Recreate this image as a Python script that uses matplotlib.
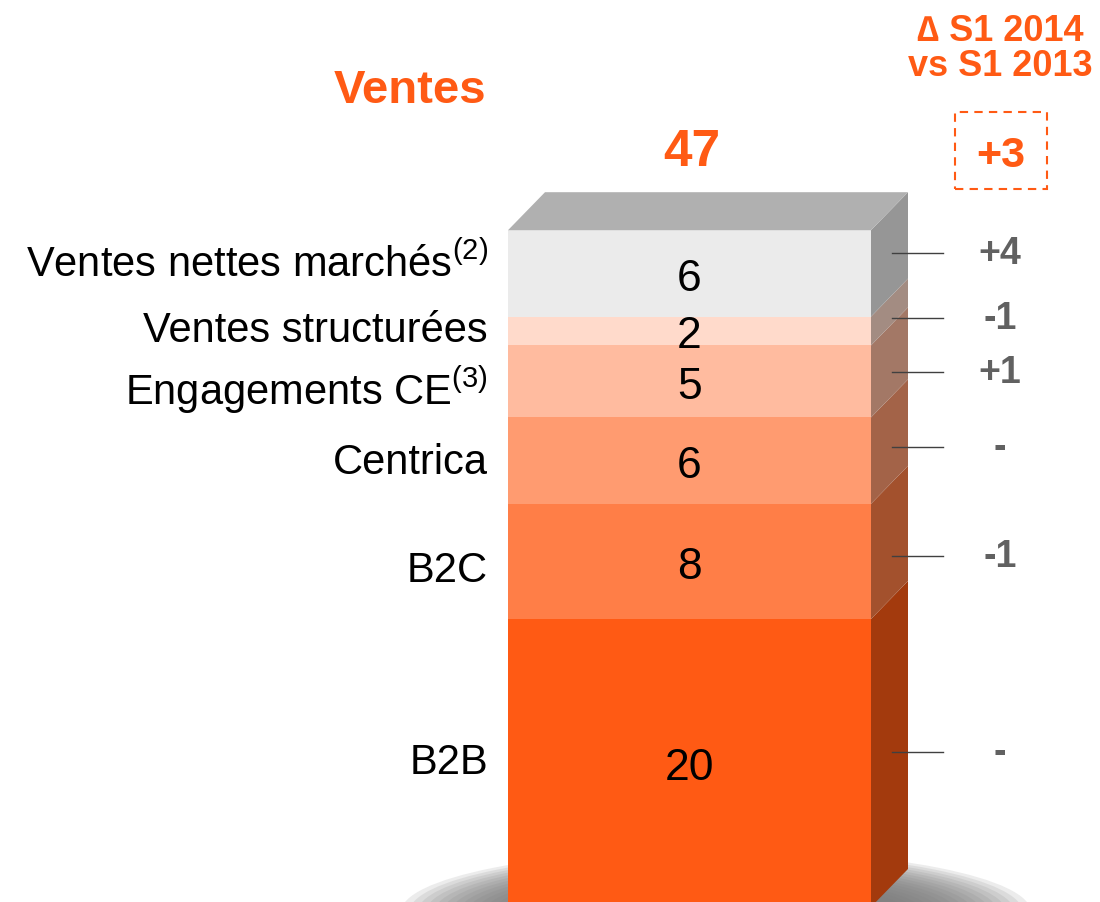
import numpy as np
import matplotlib
matplotlib.use("Agg")
from matplotlib import pyplot as plt
from matplotlib.patches import Polygon, Ellipse, Rectangle

plt.rcParams['font.family'] = ['Liberation Sans', 'DejaVu Sans']
plt.rcParams['mathtext.fontset'] = 'custom'
plt.rcParams['mathtext.rm'] = 'Liberation Sans'
plt.rcParams['mathtext.it'] = 'Liberation Sans:italic'

# data, bottom to top
categories = ["B2B", "B2C", "Centrica", "Engagements CE$^{(3)}$",
              "Ventes structurées", "Ventes nettes marchés$^{(2)}$"]
values = [20, 8, 6, 5, 2, 6]
deltas = ["-", "-1", "-", "+1", "-1", "+4"]
total = 47
total_delta = "+3"
colors = ["#FF5A14", "#FF7E47", "#FF9B70", "#FFBB9F", "#FFDACB", "#EBEBEB"]

ORANGE = "#FF5A14"
PX = 14.4                     # pixels per unit
Y0 = 907                      # pixel row of value 0
depth_x, depth_y = 37, 38 / PX
bar_x, bar_w = 508, 363

fig = plt.figure(figsize=(11, 9.02), dpi=100)
ax = fig.add_axes([0, 0, 1, 1])
ax.set_xlim(0, 1100)
ax.set_ylim((Y0 - 902) / PX, Y0 / PX)
ax.axis('off')

def v(py):
    return (Y0 - py) / PX

# floor shadow
n = 16
for i in range(n):
    f = i / (n - 1)
    ax.add_patch(Ellipse((716, v(912)), 630 - 250 * f, (125 - 60 * f) / PX,
                         color="#7A7A7A", alpha=0.14, lw=0, zorder=0))

bottoms = np.concatenate([[0], np.cumsum(values)[:-1]])
ax.bar(bar_x, values, bottom=bottoms, width=bar_w, align='edge',
       color=colors, edgecolor='none', zorder=2)

for b, h, c in zip(bottoms, values, colors):
    rgb = np.array(matplotlib.colors.to_rgb(c)) * 0.64
    x1 = bar_x + bar_w
    ax.add_patch(Polygon([(x1, b), (x1 + depth_x, b + depth_y),
                          (x1 + depth_x, b + h + depth_y), (x1, b + h)],
                         closed=True, color=rgb, lw=0, zorder=2))
top = sum(values)
ax.add_patch(Polygon([(bar_x, top), (bar_x + bar_w, top),
                      (bar_x + bar_w + depth_x, top + depth_y),
                      (bar_x + depth_x, top + depth_y)],
                     closed=True, color="#B0B0B0", lw=0, zorder=2))

label_nudge = [0, -10, -2, -9, 0, 9]     # px
line_nudge = [-8, -14, -5, -10, -6, 1]   # px
for i, (b, h) in enumerate(zip(bottoms, values)):
    mid = b + h / 2
    ax.text(bar_x + bar_w / 2, mid - 6 / PX, str(h), ha='center', va='center',
            fontsize=32, color='black', zorder=3)
    ax.text(488, mid + label_nudge[i] / PX, categories[i], ha='right', va='center',
            fontsize=30, color='black')
    ly = mid + depth_y / 2 + line_nudge[i] / PX
    ax.plot([892, 943], [ly, ly], color='#404040', lw=1, zorder=3)
    ax.text(1000, ly - 1 / PX, deltas[i], ha='center', va='center', fontsize=27,
            fontweight='bold', color='#616161')

ax.text(410, v(91), "Ventes", ha='center', va='center', fontsize=34,
        fontweight='bold', color=ORANGE)
ax.text(692, v(152), str(total), ha='center', va='center', fontsize=37,
        fontweight='bold', color=ORANGE)
ax.text(1000, v(49), "∆ S1 2014\nvs S1 2013", ha='center', va='center',
        fontsize=26, fontweight='bold', color=ORANGE, linespacing=1.0)
ax.text(1001, v(156), total_delta, ha='center', va='center', fontsize=31,
        fontweight='bold', color=ORANGE)
ax.add_patch(Rectangle((955, v(189)), 92, 77 / PX, fill=False, edgecolor=ORANGE,
                       lw=1.5, ls=(0, (4, 3))))

fig.savefig("out.png", dpi=100)
